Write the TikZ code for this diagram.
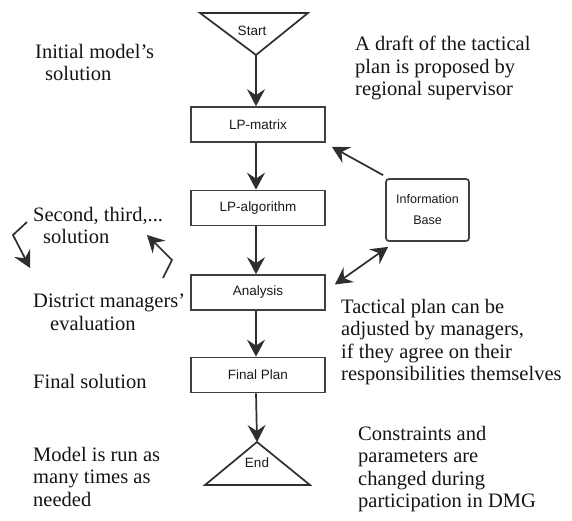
\documentclass[tikz,border=0pt]{standalone}
\usepackage{fontspec}
\setmainfont{Liberation Serif}
\setsansfont{Liberation Sans}
\usetikzlibrary{arrows.meta}
\begin{document}
\begin{tikzpicture}[x=1pt,y=-1pt,
  ln/.style={draw=black!82, line width=1.7pt},
  arr/.style={ln, -{Stealth[length=17pt,width=18pt,inset=6pt]}},
  darr/.style={ln, {Stealth[length=17pt,width=18pt,inset=6pt]}-{Stealth[length=17pt,width=18pt,inset=6pt]}},
  box/.style={draw=black!75, line width=1.7pt, minimum width=134pt, minimum height=35pt, inner sep=0pt,
    font=\sffamily\fontsize{13.5}{15}\selectfont, text=black!90},
  lbl/.style={inner sep=0pt, font=\sffamily\fontsize{13.5}{15}\selectfont, text=black!90},
  note/.style={inner sep=0pt, anchor=north west, align=left, text=black!92,
    font=\fontsize{20.5}{22.5}\selectfont}]
\useasboundingbox (0,0) rectangle (572,521);

% start triangle
\draw[ln, line join=miter] (200,13) -- (308,13) -- (256,55) -- cycle;
\coordinate (startapex) at (256,55);
\node[lbl] (start) at (252,31) {Start};

% boxes
\node[box] (lpm) at (258,124.5) {LP-matrix};
\node[box] (lpa) at (258,208) {LP-algorithm};
\node[box] (ana) at (258,292.5) {Analysis};
\node[box] (fin) at (258,375) {Final Plan};
\node[box, minimum width=83pt, minimum height=62pt, rounded corners=3pt, align=center,
  font=\sffamily\fontsize{12.5}{21}\selectfont] (info) at (427.5,210) {Information\\Base};

% end triangle
\draw[ln, line join=miter] (205,485) -- (310,485) -- (257,442) -- cycle;
\coordinate (endapex) at (257,442);
\node[lbl] (end) at (257,463) {End};

% flow arrows
\draw[arr] (startapex) -- (startapex |- lpm.north);
\draw[arr] (lpm.south -| startapex) -- (lpa.north -| startapex);
\draw[arr] (lpa.south -| startapex) -- (ana.north -| startapex);
\draw[arr] (ana.south -| startapex) -- (fin.north -| startapex);
\draw[arr] (fin.south -| startapex) -- (endapex);

% information base links
\draw[arr] ([xshift=-2pt,yshift=3pt]info.north west) -- ([xshift=6pt,yshift=-4pt]lpm.south east);
\draw[darr] ([xshift=9pt,yshift=8pt]ana.east) -- ([xshift=3pt,yshift=-5pt]info.south west);

% left loop arrows
\draw[arr, line join=miter] (27,222) -- (13,235) -- (30,268);
\draw[arr, line join=miter] (163,278) -- (172,260) -- (147,235);

% notes
\node[note] (n1) at (35,44) {Initial model's\\\hspace*{10pt}solution};
\node[note] (n2) at (33,207) {Second, third,...\\\hspace*{10pt}solution};
\node[note] (n3) at (33,294) {District managers'\\\hspace*{17pt}evaluation};
\node[note] (n4) at (33,374) {Final solution};
\node[note] (n5) at (33,447) {Model is run as\\many times as\\needed};
\node[note] (n6) at (355,36) {A draft of the tactical\\plan is proposed by\\regional supervisor};
\node[note] (n7) at (341,299) {Tactical plan can be\\adjusted by managers,\\if they agree on their\\responsibilities themselves};
\node[note] (n8) at (358,426) {Constraints and\\parameters are\\changed during\\participation in DMG};
\end{tikzpicture}
\end{document}
